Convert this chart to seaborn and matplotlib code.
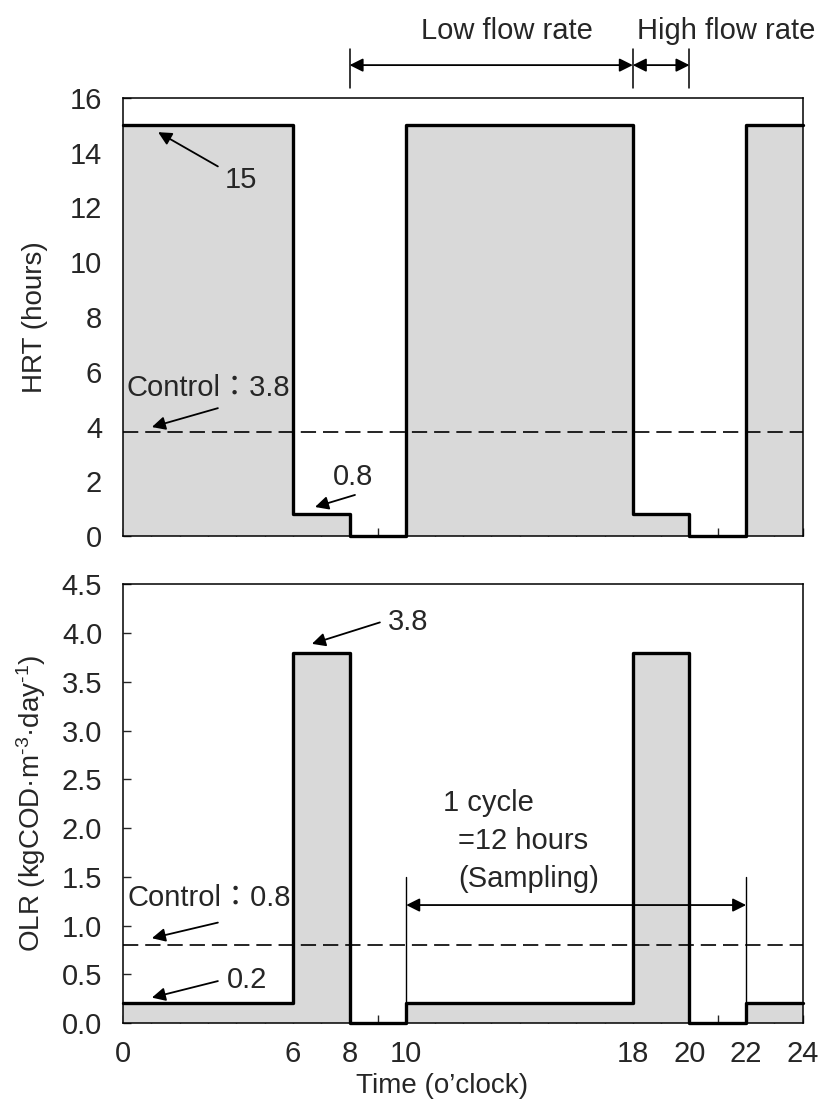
import matplotlib
matplotlib.use("Agg")
import matplotlib.pyplot as plt
import pandas as pd
import seaborn as sns

# Operating schedule over one day (step changes at these hours)
hours = [0, 6, 8, 10, 18, 20, 22, 24]
hrt = [15, 0.8, 0, 15, 0.8, 0, 15, 15]          # hours
olr = [0.2, 3.8, 0, 0.2, 3.8, 0, 0.2, 0.2]       # kgCOD m-3 day-1
hrt_control = 3.8
olr_control = 0.8
xtick_labels = [0, 6, 8, 10, 18, 20, 22, 24]
hrt_yticks = [0, 2, 4, 6, 8, 10, 12, 14, 16]
olr_yticks = [0.0, 0.5, 1.0, 1.5, 2.0, 2.5, 3.0, 3.5, 4.0, 4.5]

sns.set_style("ticks")
plt.rcParams["font.family"] = ["Liberation Sans", "Noto Sans CJK JP", "DejaVu Sans"]
plt.rcParams["mathtext.fontset"] = "custom"
plt.rcParams["mathtext.rm"] = "Liberation Sans"
plt.rcParams["mathtext.it"] = "Liberation Sans:italic"
plt.rcParams["lines.scale_dashes"] = False
FS = 21
FS_LABEL = 20

df = pd.DataFrame({"Time": hours, "HRT": hrt, "OLR": olr})

fig = plt.figure(figsize=(8.21, 11.02), dpi=100)
ax1 = fig.add_axes([0.1498, 0.5136, 0.828, 0.3975])
ax2 = fig.add_axes([0.1498, 0.0717, 0.828, 0.398])

arrow = dict(arrowstyle="-|>", color="black", lw=1.3, mutation_scale=20,
             shrinkA=0, shrinkB=0)
darrow = dict(arrowstyle="<|-|>", color="black", lw=1.3, mutation_scale=20,
              shrinkA=0, shrinkB=0)


def draw_panel(ax, col, control, ymax, yticks, ylabels):
    ax.fill_between(df["Time"], df[col], step="post", color="#d9d9d9", lw=0)
    sns.lineplot(data=df, x="Time", y=col, ax=ax, drawstyle="steps-post",
                 color="black", lw=2.4, estimator=None)
    ax.lines[-1].set_clip_on(False)
    ax.axhline(control, color="black", lw=1.2, dashes=(11, 5))
    ax.set_xlim(0, 24)
    ax.set_ylim(0, ymax)
    ax.set_xticks(range(25))
    ax.set_yticks(yticks)
    ax.set_yticklabels(ylabels, fontsize=FS)
    ax.tick_params(axis="both", direction="in", length=6, width=1,
                   top=False, right=False)
    ax.tick_params(axis="y", pad=15)
    ax.tick_params(axis="x", pad=12)
    for s in ax.spines.values():
        s.set_linewidth(1.1)
        s.set_color("black")


# ---- HRT panel ----
draw_panel(ax1, "HRT", hrt_control, 16, hrt_yticks, [str(v) for v in hrt_yticks])
ax1.set_xticklabels([])
ax1.set_xlabel("")
ax1.set_ylabel("HRT (hours)", fontsize=FS_LABEL)
ax1.yaxis.set_label_coords(-0.11, 0.5)

ax1.annotate("", xy=(1.24, 14.75), xytext=(3.35, 13.5), arrowprops=arrow)
ax1.text(4.17, 13.0, "15", fontsize=FS, ha="center", va="center")
ax1.annotate("", xy=(1.02, 3.98), xytext=(3.35, 4.67), arrowprops=arrow)
ax1.text(3.0, 5.4, "Control\uff1a3.8", fontsize=FS, ha="center", va="center")
ax1.annotate("", xy=(6.78, 1.06), xytext=(8.19, 1.5), arrowprops=arrow)
ax1.text(8.12, 2.15, "0.8", fontsize=FS, ha="center", va="center")

# flow-rate periods above the HRT panel
for xv in (8, 18, 20):
    ax1.plot([xv, xv], [16.35, 17.8], color="black", lw=1.1, clip_on=False)
ax1.annotate("", xy=(18, 17.2), xytext=(8, 17.2), arrowprops=darrow,
             annotation_clip=False)
ax1.annotate("", xy=(20, 17.2), xytext=(18, 17.2), arrowprops=darrow,
             annotation_clip=False)
ax1.text(13.56, 18.45, "Low flow rate", fontsize=FS, ha="center", va="center")
ax1.text(21.3, 18.45, "High flow rate", fontsize=FS, ha="center", va="center")

# ---- OLR panel ----
draw_panel(ax2, "OLR", olr_control, 4.5, olr_yticks, [f"{v:.1f}" for v in olr_yticks])
ax2.set_xticklabels([str(h) if h in xtick_labels else "" for h in range(25)],
                    fontsize=FS)
ax2.set_xlabel("Time (o\u2019clock)", fontsize=FS_LABEL)
ax2.xaxis.set_label_coords(0.47, -0.113)
ax2.set_ylabel("OLR (kgCOD\u00b7m$^{\\text{-3}}$\u00b7day$^{\\text{-1}}$)", fontsize=FS_LABEL)
ax2.yaxis.set_label_coords(-0.11, 0.5)

ax2.annotate("", xy=(6.67, 3.89), xytext=(9.07, 4.11), arrowprops=arrow)
ax2.text(10.05, 4.11, "3.8", fontsize=FS, ha="center", va="center")
ax2.annotate("", xy=(1.02, 0.87), xytext=(3.35, 1.03), arrowprops=arrow)
ax2.text(3.06, 1.28, "Control\uff1a0.8", fontsize=FS, ha="center", va="center")
ax2.annotate("", xy=(1.02, 0.26), xytext=(3.35, 0.43), arrowprops=arrow)
ax2.text(4.38, 0.44, "0.2", fontsize=FS, ha="center", va="center")

# one sampling cycle
for xv in (10, 22):
    ax2.plot([xv, xv], [0.2, 1.5], color="black", lw=1.0)
ax2.annotate("", xy=(22, 1.21), xytext=(10, 1.21), arrowprops=darrow)
ax2.text(11.3, 2.26, "1 cycle", fontsize=FS, ha="left", va="center")
ax2.text(11.83, 1.87, "=12 hours", fontsize=FS, ha="left", va="center")
ax2.text(11.83, 1.48, "(Sampling)", fontsize=FS, ha="left", va="center")

fig.savefig("out.png", dpi=100)
